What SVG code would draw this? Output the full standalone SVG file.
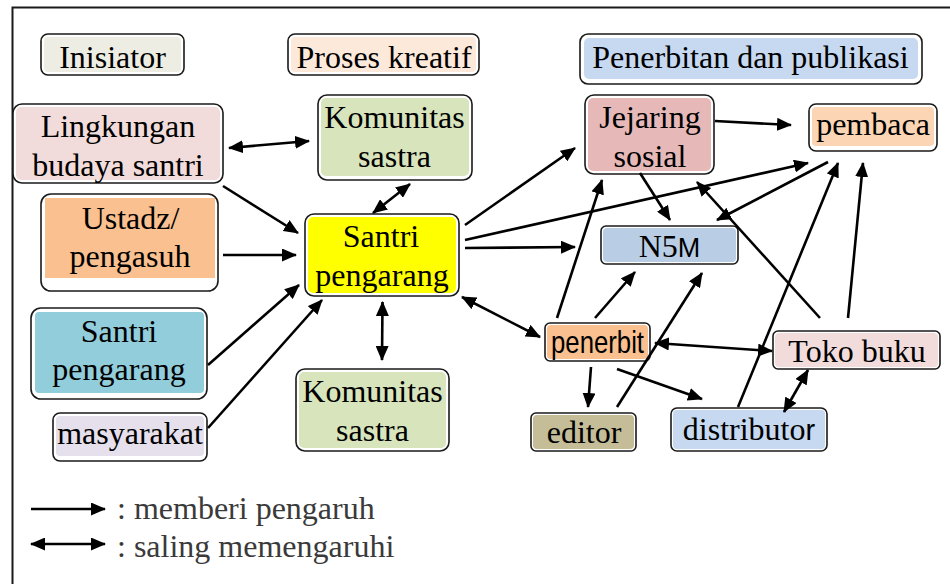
<svg xmlns="http://www.w3.org/2000/svg" width="950" height="584" viewBox="0 0 950 584">
<defs>
<marker id="ah" markerUnits="userSpaceOnUse" markerWidth="15" markerHeight="13" refX="14" refY="6.5" orient="auto-start-reverse">
<path d="M0,0 L15,6.5 L0,13 z" fill="#000"/>
</marker>
<style>
.box{fill:#fff;stroke:#1a1a1a;stroke-width:1.6}
.t{font-family:"Liberation Serif","Times New Roman",serif;font-size:32px;fill:#000;text-anchor:middle}
.s{font-family:"Liberation Sans",Arial,sans-serif}
.c{stroke:#000;stroke-width:2.6;fill:none;marker-end:url(#ah)}
.d{marker-start:url(#ah)}
.lg{font-family:"Liberation Serif","Times New Roman",serif;font-size:32px;fill:#3a3a3a}
</style>
</defs>
<rect width="950" height="584" fill="#fff"/>
<rect x="12.5" y="7.5" width="960" height="600" fill="none" stroke="#1a1a1a" stroke-width="2"/>

<g id="inisiator">
<rect class="box" x="41" y="34" width="143" height="41" rx="7"/>
<rect x="44" y="37" width="137" height="35" rx="4" fill="#EEEDE3"/>
<text class="t" x="112.5" y="68">Inisiator</text>
</g>
<g id="proses-kreatif">
<rect class="box" x="288" y="34" width="191" height="41" rx="7"/>
<rect x="291" y="37" width="185" height="35" rx="4" fill="#FCE9DA"/>
<text class="t" x="384" y="68">Proses kreatif</text>
</g>
<g id="penerbitan">
<rect class="box" x="580" y="34" width="342" height="50" rx="8"/>
<rect x="584" y="38" width="334" height="41" rx="5" fill="#C6D9F0"/>
<text class="t" x="750.5" y="68">Penerbitan dan publikasi</text>
</g>

<g id="lingkungan">
<rect class="box" x="13" y="104" width="210" height="79" rx="9"/>
<rect x="16" y="107" width="204" height="73" rx="5" fill="#F2DCDB"/>
<text class="t" x="118" y="137">Lingkungan</text>
<text class="t" x="118" y="176">budaya santri</text>
</g>
<g id="komunitas-atas">
<rect class="box" x="318" y="95" width="154" height="85" rx="9"/>
<rect x="321" y="98" width="148" height="78" rx="5" fill="#D7E4BC"/>
<text class="t" x="394.5" y="128">Komunitas</text>
<text class="t" x="394.5" y="167">sastra</text>
</g>
<g id="ustadz">
<rect class="box" x="41" y="194" width="177" height="97" rx="10"/>
<rect x="45" y="198" width="170" height="80" fill="#FAC090"/>
<text class="t" x="130.5" y="229">Ustadz/</text>
<text class="t" x="130" y="267">pengasuh</text>
</g>
<g id="santri-pengarang-pusat">
<rect class="box" x="305" y="214" width="154" height="82" rx="9"/>
<rect x="308" y="217" width="148" height="76" rx="5" fill="#FFFF00"/>
<text class="t" x="381" y="247">Santri</text>
<text class="t" x="382" y="285.5">pengarang</text>
</g>
<g id="santri-pengarang">
<rect class="box" x="31" y="308" width="176" height="91" rx="10"/>
<rect x="35" y="312" width="169" height="81" rx="4" fill="#92CDDC"/>
<text class="t" x="119" y="342">Santri</text>
<text class="t" x="119" y="380">pengarang</text>
</g>
<g id="masyarakat">
<rect class="box" x="53" y="413" width="154" height="48" rx="7"/>
<rect x="56" y="416" width="148" height="40" rx="4" fill="#E5E0EC"/>
<text class="t" x="130" y="444">masyarakat</text>
</g>
<g id="komunitas-bawah">
<rect class="box" x="296" y="369" width="153" height="82" rx="9"/>
<rect x="299" y="372" width="147" height="76" rx="5" fill="#D7E4BC"/>
<text class="t" x="372.5" y="402">Komunitas</text>
<text class="t" x="372.5" y="441">sastra</text>
</g>
<g id="jejaring">
<rect class="box" x="585" y="95" width="129" height="79" rx="9"/>
<rect x="588" y="98" width="123" height="73" rx="5" fill="#E6B9B8"/>
<text class="t" x="650" y="128">Jejaring</text>
<text class="t" x="650" y="167">sosial</text>
</g>
<g id="pembaca">
<rect class="box" x="809" y="104" width="128" height="47" rx="7"/>
<rect x="812" y="107" width="122" height="39" rx="4" fill="#FCD5B5"/>
<text class="t" x="873" y="135">pembaca</text>
</g>
<g id="n5m">
<rect class="box" x="601" y="226" width="137" height="38" rx="5"/>
<rect x="603" y="228" width="133" height="34" rx="4" fill="#B9CDE5"/>
<text class="t" x="669.5" y="257">N5<tspan class="s" font-size="27">M</tspan></text>
</g>
<g id="penerbit">
<rect class="box" x="545" y="323" width="105" height="38" rx="5"/>
<rect x="547" y="325" width="101" height="34" rx="4" fill="#FAC090"/>
<text class="t s" x="597.5" y="353" font-size="28" textLength="93" lengthAdjust="spacingAndGlyphs">penerbit</text>
</g>
<g id="toko-buku">
<rect class="box" x="773" y="331" width="167" height="38" rx="5"/>
<rect x="775" y="333" width="163" height="34" rx="4" fill="#F2DCDB"/>
<text class="t" x="857" y="362">Toko buku</text>
</g>
<g id="editor">
<rect class="box" x="531" y="413" width="105" height="38" rx="5"/>
<rect x="533" y="415" width="101" height="34" rx="4" fill="#C4BD97"/>
<text class="t" x="584" y="443">editor</text>
</g>
<g id="distributor">
<rect class="box" x="671" y="408" width="156" height="43" rx="6"/>
<rect x="673" y="410" width="152" height="39" rx="4" fill="#C6D9F0"/>
<text class="t" x="749" y="440">distributo<tspan class="s" font-size="29">r</tspan></text>
</g>

<g id="connectors">
<line class="c d" x1="229" y1="148" x2="309" y2="141"/>
<line class="c d" x1="410" y1="184" x2="373" y2="213"/>
<line class="c" x1="223" y1="186" x2="298" y2="233"/>
<line class="c" x1="223" y1="255" x2="296" y2="255"/>
<line class="c" x1="208" y1="365" x2="299" y2="285"/>
<line class="c" x1="208" y1="428" x2="322" y2="300"/>
<line class="c d" x1="382.5" y1="302" x2="382" y2="360"/>
<line class="c" x1="465" y1="225" x2="575" y2="148"/>
<line class="c" x1="465" y1="240" x2="808" y2="163"/>
<line class="c" x1="465" y1="248" x2="575" y2="247"/>
<line class="c d" x1="462" y1="297" x2="540" y2="337"/>
<line class="c" x1="557" y1="318" x2="602" y2="180"/>
<line class="c" x1="595" y1="318" x2="635" y2="272"/>
<line class="c" x1="617" y1="407" x2="702" y2="273"/>
<line class="c" x1="640" y1="173" x2="670" y2="220"/>
<line class="c" x1="828" y1="162" x2="717" y2="220"/>
<line class="c" x1="715" y1="121" x2="791" y2="125"/>
<line class="c" x1="820" y1="318" x2="697" y2="182"/>
<line class="c" x1="848" y1="318" x2="863" y2="163"/>
<line class="c" x1="738" y1="407" x2="838" y2="163"/>
<line class="c d" x1="655" y1="343" x2="772" y2="351"/>
<line class="c" x1="591" y1="367" x2="588" y2="407"/>
<line class="c" x1="617" y1="369" x2="702" y2="399"/>
<line class="c d" x1="784" y1="412" x2="808" y2="370"/>
</g>

<g id="legend">
<line class="c" x1="31" y1="509" x2="105" y2="509"/>
<line class="c d" x1="31" y1="544" x2="105" y2="544"/>
<text class="lg" x="117" y="519">: memberi pengaruh</text>
<text class="lg" x="117" y="557">: saling memengaruhi</text>
</g>
</svg>
